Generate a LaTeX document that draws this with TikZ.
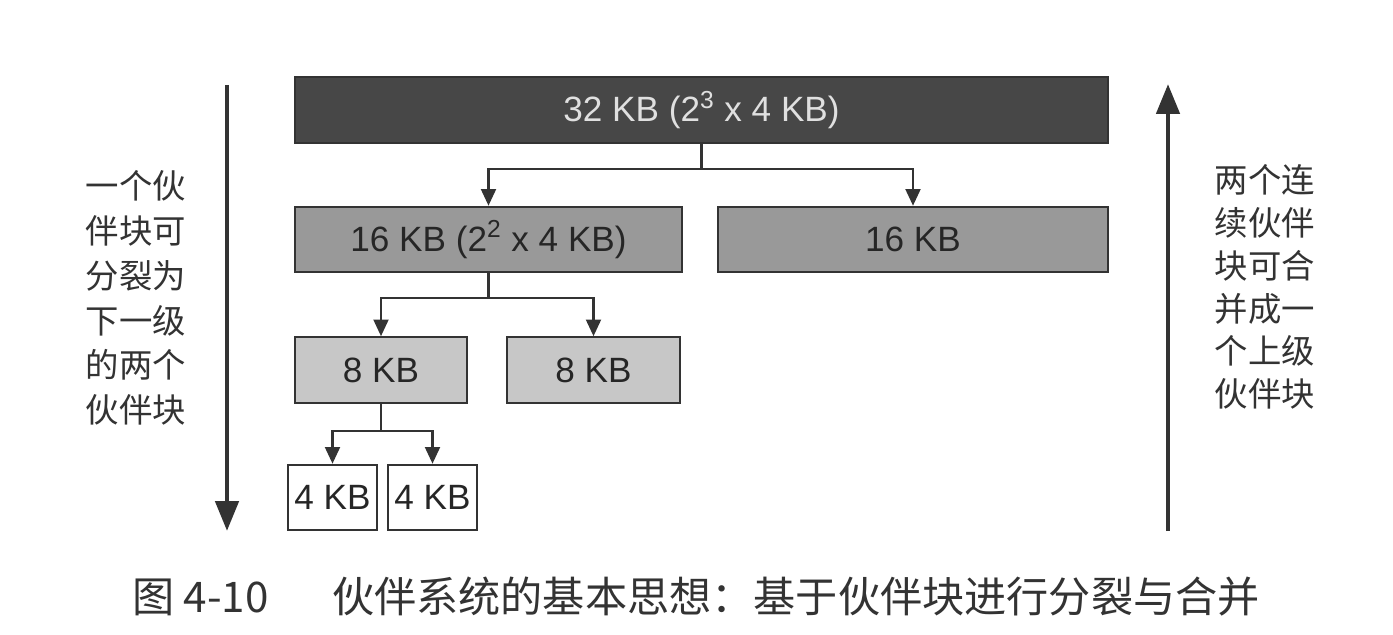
\documentclass[tikz,border=0pt]{standalone}
\usepackage{fontspec}
\setmainfont{Liberation Sans}
\newfontfamily\cjk{Noto Sans CJK SC}
\usetikzlibrary{arrows.meta}
\begin{document}
\begin{tikzpicture}[x=0.02cm,y=-0.02cm,
    blk/.style={draw=black!80, line width=1.2pt, minimum height=1.31cm, inner sep=0pt,
      font=\fontsize{20}{24}\selectfont, text=black!85},
    link/.style={draw=black!80, line width=1.3pt, -{Triangle[width=8.5pt,length=9.5pt]}},
    side/.style={draw=black!80, line width=2.8pt, -{Triangle[width=13pt,length=17pt]}},
    note/.style={font=\cjk\fontsize{19}{25.5}\selectfont, align=center, text=black!80}]
    \useasboundingbox (0,0) rectangle (1393,635);
    % blocks
    \node[blk, fill=black!72, text=white!88!black, minimum width=16.26cm] (kb32) at (701.5,110) {32 KB (2\textsuperscript{3} x 4 KB)};
    \node[blk, fill=black!40, minimum width=7.74cm] (kb16a) at (488.5,239.5) {16 KB (2\textsuperscript{2} x 4 KB)};
    \node[blk, fill=black!40, minimum width=7.80cm] (kb16b) at (913,239.5) {16 KB};
    \node[blk, fill=black!22, minimum width=3.44cm] (kb8a) at (381,370) {8 KB};
    \node[blk, fill=black!22, minimum width=3.46cm] (kb8b) at (593.5,370) {8 KB};
    \node[blk, fill=white, minimum width=1.78cm] (kb4a) at (332.5,497.5) {4 KB};
    \node[blk, fill=white, minimum width=1.78cm] (kb4b) at (432.5,497.5) {4 KB};
    % splits
    \draw[link] (kb32.south) -- ++(0,25) -| (kb16a.north);
    \draw[link] (kb32.south) -- ++(0,25) -| (kb16b.north);
    \draw[link] (kb16a.south) -- ++(0,25) -| (kb8a.north);
    \draw[link] (kb16a.south) -- ++(0,25) -| (kb8b.north);
    \draw[link] (kb8a.south) -- ++(0,27) -| (kb4a.north);
    \draw[link] (kb8a.south) -- ++(0,27) -| (kb4b.north);
    % side arrows
    \coordinate (ltop) at (227,85);
    \coordinate (lbot) at (227,531);
    \coordinate (rbot) at (1168,531);
    \coordinate (rtop) at (1168,84);
    \draw[side] (ltop) -- (lbot);
    \draw[side] (rbot) -- (rtop);
    \node[note] (split) at (136,298) {一个伙\\伴块可\\分裂为\\下一级\\的两个\\伙伴块};
    \node[note, font=\cjk\fontsize{19}{24.3}\selectfont] (merge) at (1265,287) {两个连\\续伙伴\\块可合\\并成一\\个上级\\伙伴块};
    % caption
    \node[font=\cjk\fontsize{24}{28}\selectfont, text=black!80] (cap) at (696,597) {图 4-10\hspace{1.5em}伙伴系统的基本思想：基于伙伴块进行分裂与合并};
\end{tikzpicture}
\end{document}
